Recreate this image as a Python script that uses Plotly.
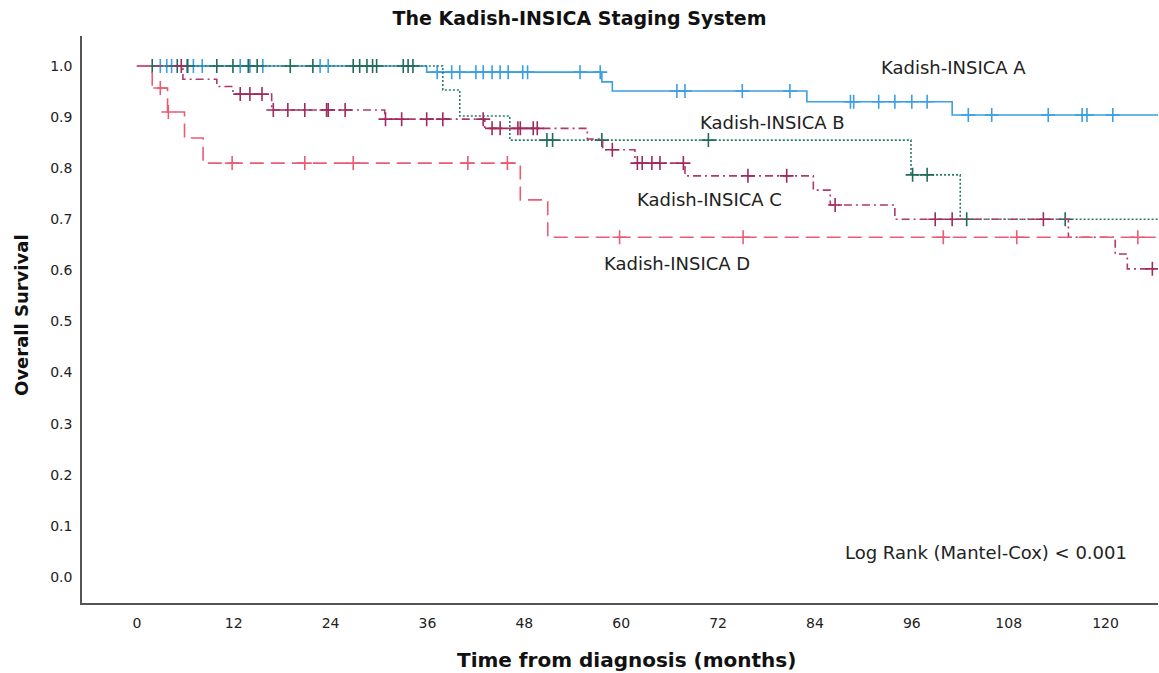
import plotly.graph_objects as go

# ---- data ----
# event (step) times in months and survival after each step
a_times = [0, 35.9, 57.6, 58.9, 83.0, 101.0]
a_surv = [1.0, 0.988, 0.969, 0.951, 0.930, 0.904]
a_censor = [2.9, 3.7, 4.3, 6.2, 7.0, 8.1, 12.8, 14.0, 15.6, 22.7, 23.7,
            37.2, 39.0, 40.0, 42.0, 42.9, 44.0, 45.0, 46.0, 47.8, 48.4, 54.9, 57.4,
            66.9, 67.9, 75.0, 80.9,
            88.4, 88.8, 91.9, 93.9, 96.0, 97.9,
            103.0, 105.9, 112.9, 117.1, 117.7, 120.9]

b_times = [0, 37.9, 40.0, 46.2, 95.9, 102.0]
b_surv = [1.0, 0.953, 0.902, 0.855, 0.787, 0.700]
b_censor = [1.9, 5.0, 6.3, 9.9, 11.9, 13.8, 14.9, 19.0, 21.8, 26.8, 27.6, 28.5,
            29.2, 29.7, 33.0, 33.6, 34.2,
            50.8, 51.5, 57.6, 70.8,
            96.1, 97.9,
            102.8, 115.0]

c_times = [0, 5.7, 9.9, 11.9, 16.7, 30.7, 43.1, 55.8, 57.7, 61.7, 67.9, 83.8,
           85.9, 93.9, 115.4, 121.2, 122.7]
c_surv = [1.0, 0.974, 0.960, 0.945, 0.914, 0.896, 0.878, 0.857, 0.836, 0.810,
          0.785, 0.757, 0.728, 0.700, 0.665, 0.632, 0.603]
c_censor = [5.5, 12.8, 14.0, 15.5, 16.9, 18.7, 20.8, 23.5, 23.7, 25.8,
            30.8, 32.8, 35.9, 37.9, 42.9,
            44.0, 45.0, 47.2, 47.5, 49.1, 49.6,
            58.9, 62.0, 62.6, 63.8, 64.8, 67.7,
            75.7, 80.5, 86.5, 98.9, 101.0, 112.3, 125.8]

d_times = [0, 1.9, 3.8, 5.9, 8.2, 47.5, 50.9]
d_surv = [1.0, 0.957, 0.910, 0.859, 0.810, 0.738, 0.665]
d_censor = [2.9, 3.9, 11.8, 20.8, 26.8, 41.0, 45.9, 59.8, 75.1, 99.9, 109.0, 124.0]

follow_up_end = 130
x_ticks = [0, 12, 24, 36, 48, 60, 72, 84, 96, 108, 120]
y_ticks = [0.0, 0.1, 0.2, 0.3, 0.4, 0.5, 0.6, 0.7, 0.8, 0.9, 1.0]

FONT = "DejaVu Sans"


def surv_at(t, times, surv):
    s = surv[0]
    for ti, si in zip(times, surv):
        if ti <= t:
            s = si
    return s


groups = [
    ("Kadish-INSICA A", a_times, a_surv, a_censor, "#3b9fe2", "solid", "#3b9fe2"),
    ("Kadish-INSICA B", b_times, b_surv, b_censor, "#2b7b6a", "2px,2px", "#216b5b"),
    ("Kadish-INSICA C", c_times, c_surv, c_censor, "#b0386c", "8px,4px,2px,4px", "#a02a5e"),
    ("Kadish-INSICA D", d_times, d_surv, d_censor, "#ea5c74", "14px,7px", "#ea5c74"),
]

fig = go.Figure()
for name, times, surv, cens, col, dash, mcol in groups:
    fig.add_trace(go.Scatter(
        x=times + [follow_up_end], y=surv + [surv[-1]],
        mode="lines", line=dict(color=col, width=1.6, dash=dash, shape="hv"),
        name=name, showlegend=False, hoverinfo="skip"))
    fig.add_trace(go.Scatter(
        x=cens, y=[surv_at(t, times, surv) for t in cens],
        mode="markers",
        marker=dict(symbol="cross-thin", size=10, line=dict(color=mcol, width=1.6)),
        name=name + " censored", showlegend=False))

annotations = [
    dict(x=101.2, y=0.998, text="Kadish-INSICA A"),
    dict(x=78.8, y=0.890, text="Kadish-INSICA B"),
    dict(x=70.9, y=0.738, text="Kadish-INSICA C"),
    dict(x=66.9, y=0.614, text="Kadish-INSICA D"),
    dict(x=105.2, y=0.047, text="Log Rank (Mantel-Cox) < 0.001"),
]
for a in annotations:
    a.update(xref="x", yref="y", showarrow=False,
             font=dict(family=FONT, size=18, color="#222"),
             xanchor="center", yanchor="middle")

annotations.append(dict(xref="paper", yref="paper", x=0.5065, y=-0.1005,
                        text="<b>Time from diagnosis (months)</b>", showarrow=False,
                        font=dict(family=FONT, size=20, color="#111"),
                        xanchor="center", yanchor="middle"))
annotations.append(dict(xref="paper", yref="paper", x=-0.0558, y=0.508,
                        text="<b>Overall Survival</b>", showarrow=False, textangle=-90,
                        font=dict(family=FONT, size=18, color="#111"),
                        xanchor="center", yanchor="middle"))

fig.update_layout(
    width=1159, height=673, autosize=False,
    margin=dict(l=82, r=1, t=36, b=70),
    paper_bgcolor="white", plot_bgcolor="white",
    title=dict(text="<b>The Kadish-INSICA Staging System</b>",
               x=0.5, xref="container", xanchor="center",
               y=1 - 18 / 673, yref="container", yanchor="middle",
               font=dict(family=FONT, size=19, color="#111")),
    annotations=annotations,
    showlegend=False,
    xaxis=dict(range=[-6.8, 126.5], tickvals=x_ticks, ticks="", showgrid=False,
               zeroline=False, showline=True, linecolor="#555", linewidth=1.5,
               tickfont=dict(family=FONT, size=14, color="#222"),
               ticklabelstandoff=6),
    yaxis=dict(range=[-0.0509, 1.0587], tickvals=y_ticks, tickformat=".1f", ticks="",
               showgrid=False, zeroline=False, showline=True, linecolor="#555",
               linewidth=1.5, tickfont=dict(family=FONT, size=14, color="#222"),
               ticklabelstandoff=5),
)

fig.write_html("out.html")
